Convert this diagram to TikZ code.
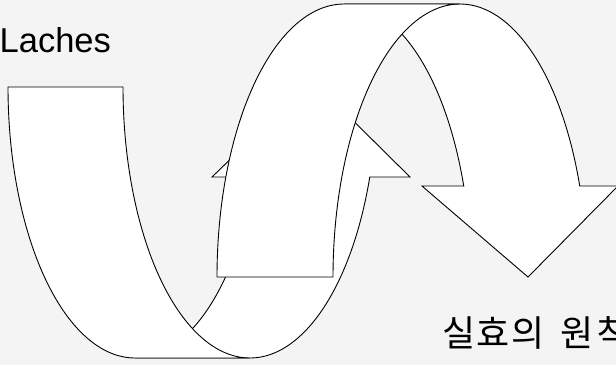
\documentclass[tikz,border=0pt]{standalone}
\usepackage{fontspec}
\setmainfont{Liberation Sans}
\newfontfamily\krfont{Noto Sans CJK KR}
\definecolor{bgc}{RGB}{244,244,244}
\begin{document}
\begin{tikzpicture}[x=1pt,y=-1pt,
  band/.style={draw=black,fill=white,line width=0.9pt,line join=miter},
  lbl/.style={inner sep=0pt,anchor=base west}]
\useasboundingbox (0,0) rectangle (616,365);
\fill[bgc] (0,0) rectangle (616,365);
\clip (0,0) rectangle (616,365);
% ---- curved up arrow (back) ----
% ellipse 1: centre (135,87), radii 127 x 271 ; ellipse 2: centre (250,87)
\path[band] (135,358)
  -- plot[domain=90:19.4,samples=60,variable=\t] ({135+127*cos(\t)},{87+271*sin(\t)})
  -- (212,177) -- (312,80) -- (410,177)
  -- plot[domain=19.4:90,samples=60,variable=\t] ({250+127*cos(\t)},{87+271*sin(\t)})
  -- cycle;
\path[band] (8,87)
  -- plot[domain=180:90,samples=70,variable=\t] ({135+127*cos(\t)},{87+271*sin(\t)})
  -- (250,358)
  -- plot[domain=90:180,samples=70,variable=\t] ({250+127*cos(\t)},{87+271*sin(\t)})
  -- cycle;
% ---- curved down arrow (front) ----
% ellipse 3: centre (344,277), radii 127 x 273 ; ellipse 4: centre (460,277)
\path[band] (463.7,186)
  -- plot[domain=19.47:90,samples=60,variable=\t] ({344+127*cos(\t)},{277-273*sin(\t)})
  -- (460,4)
  -- plot[domain=90:19.47,samples=60,variable=\t] ({460+127*cos(\t)},{277-273*sin(\t)})
  -- (618,186) -- (528,277) -- (422,186) -- cycle;
\path[band] (217,277)
  -- plot[domain=180:90,samples=70,variable=\t] ({344+127*cos(\t)},{277-273*sin(\t)})
  -- (460,4)
  -- plot[domain=90:180,samples=70,variable=\t] ({460+127*cos(\t)},{277-273*sin(\t)})
  -- cycle;
% ---- labels ----
\node[lbl] (laches) at (-0.5,52) {\fontsize{34.5}{40}\selectfont Laches};
\node[lbl] (verw) at (442,346) {\krfont\fontsize{36}{40}\selectfont 실\kern1.5pt 효\kern1.5pt 의\kern16pt 원\kern3pt 칙};
\end{tikzpicture}
\end{document}
